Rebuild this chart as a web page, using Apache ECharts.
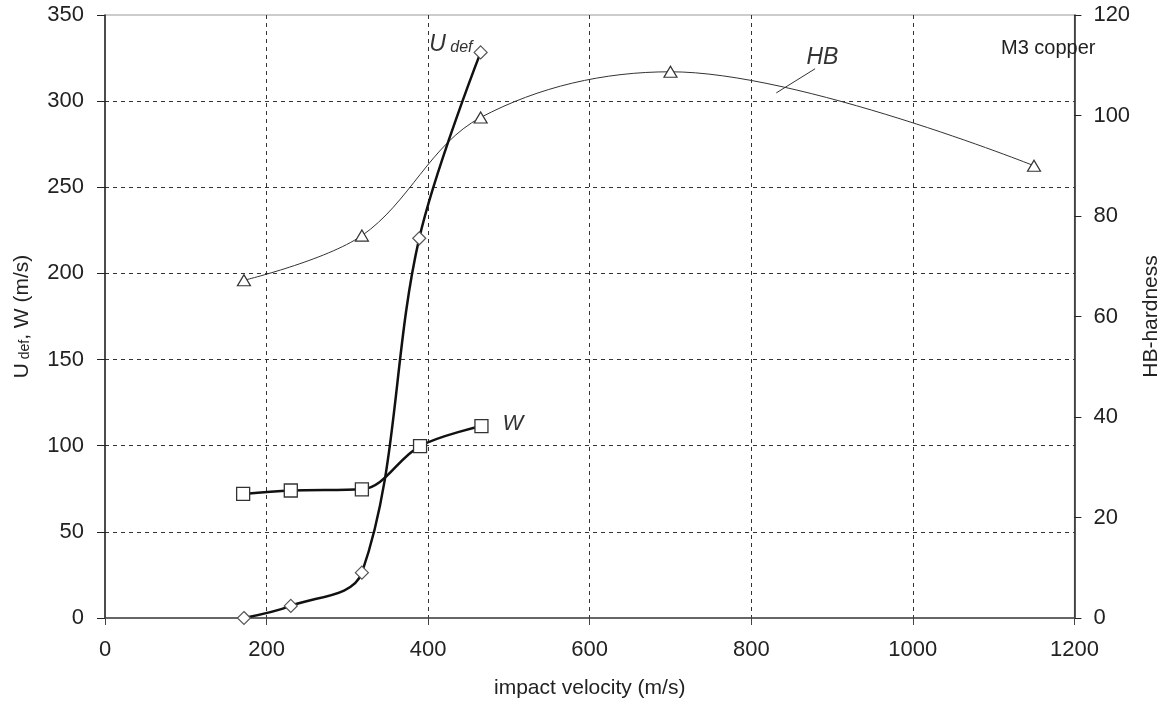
<!DOCTYPE html>
<html>
<head>
<meta charset="utf-8">
<script src="https://cdn.jsdelivr.net/npm/echarts@6/dist/echarts.min.js"></script>
<style>html,body{margin:0;padding:0;background:#fff;}#c{width:1170px;height:711px;}</style>
</head>
<body>
<div id="c"></div>
<script>
// Data
const wX = [171, 230, 318, 390, 466];
const wY = [72, 74, 74.7, 99.8, 111.4];
const uX = [172, 230, 318, 389, 465];
const uY = [0, 7, 26.3, 220.4, 328.3];
const hbX = [172, 318, 465, 700, 1150];
const hbY = [67.2, 76.1, 99.6, 108.7, 90];
const xTicks = [0, 200, 400, 600, 800, 1000, 1200];
const leftTicks = [0, 50, 100, 150, 200, 250, 300, 350];
const rightTicks = [0, 20, 40, 60, 80, 100, 120];

const FONT = "'Liberation Sans', Arial, sans-serif";
const TXT = '#222';

function pairs(xs, ys) { return xs.map((x, i) => [x, ys[i]]); }

const uData = pairs(uX, uY).map(v => ({ value: v }));
uData[uData.length - 1].label = {
  show: true, position: 'left', distance: 1, offset: [0, -8],
  formatter: '{u|U}{d| def}',
  rich: {
    u: { fontSize: 23, fontStyle: 'italic', color: '#333', fontFamily: FONT },
    d: { fontSize: 16, fontStyle: 'italic', color: '#333', fontFamily: FONT, padding: [6, 0, 0, 0] }
  }
};
const wData = pairs(wX, wY).map(v => ({ value: v }));
wData[wData.length - 1].label = {
  show: true, position: 'right', distance: 14, offset: [0, -2],
  formatter: 'W', fontSize: 22, fontStyle: 'italic', color: '#333', fontFamily: FONT
};

const chart = echarts.init(document.getElementById('c'), null, { renderer: 'canvas' });
const dashed = { show: true, lineStyle: { color: '#333', type: [4, 4], width: 1 }, showMinLine: false, showMaxLine: false };

chart.setOption({
  animation: false,
  backgroundColor: '#fff',
  textStyle: { fontFamily: FONT },
  title: {
    text: 'M3 copper', left: 996, top: 33,
    textStyle: { fontSize: 20, fontWeight: 'normal', color: TXT, fontFamily: FONT }
  },
  grid: { left: 105, right: 90, top: 15, bottom: 93, show: true, borderColor: '#999', borderWidth: 1, containLabel: false },
  xAxis: {
    type: 'value', min: 0, max: 1200, interval: 200,
    name: 'impact velocity (m/s)', nameLocation: 'middle', nameGap: 60,
    nameTextStyle: { fontSize: 21, color: TXT, fontFamily: FONT },
    axisLine: { show: true, lineStyle: { color: '#444', width: 1.5 } },
    axisTick: { show: true, length: 7, inside: false, lineStyle: { color: '#444' } },
    axisLabel: { fontSize: 22, color: TXT, margin: 21, fontFamily: FONT,
      formatter: v => xTicks.includes(v) ? String(v) : '' },
    splitLine: dashed
  },
  yAxis: [
    {
      type: 'value', min: 0, max: 350, interval: 50, position: 'left',
      name: '{a|U}{b| def}{a|, W (m/s)}', nameLocation: 'middle', nameGap: 72, nameRotate: 90,
      nameTextStyle: {
        color: TXT, fontFamily: FONT,
        rich: { a: { fontSize: 21, color: TXT, fontFamily: FONT }, b: { fontSize: 14, color: TXT, fontFamily: FONT, padding: [5, 0, 0, 0] } }
      },
      axisLine: { show: true, lineStyle: { color: '#222', width: 1.5 } },
      axisTick: { show: true, length: 8, lineStyle: { color: '#222' } },
      axisLabel: { fontSize: 22, color: TXT, margin: 21, fontFamily: FONT,
        formatter: v => leftTicks.includes(v) ? String(v) : '' },
      splitLine: dashed
    },
    {
      type: 'value', min: 0, max: 120, interval: 20, position: 'right',
      name: 'HB-hardness', nameLocation: 'middle', nameGap: 64, nameRotate: 90,
      nameTextStyle: { fontSize: 21, color: TXT, fontFamily: FONT },
      axisLine: { show: true, lineStyle: { color: '#222', width: 1.5 } },
      axisTick: { show: true, length: 7, lineStyle: { color: '#222' } },
      axisLabel: { fontSize: 22, color: TXT, margin: 19, fontFamily: FONT,
        formatter: v => rightTicks.includes(v) ? String(v) : '' },
      splitLine: { show: false }
    }
  ],
  series: [
    {
      name: 'HB', type: 'line', yAxisIndex: 1, smooth: 0.35,
      data: pairs(hbX, hbY),
      symbol: 'triangle', symbolSize: [13, 11], showSymbol: true,
      lineStyle: { color: '#333', width: 1 },
      itemStyle: { color: '#fff', borderColor: '#333', borderWidth: 1.2 },
      z: 3,
      markLine: {
        silent: true, symbol: ['none', 'none'], label: { show: false },
        lineStyle: { color: '#333', width: 1, type: 'solid' },
        data: [[{ coord: [831, 104.5] }, { coord: [879, 109.3] }]]
      },
      markPoint: {
        silent: true,
        data: [{ coord: [888, 111.6], symbol: 'rect', symbolSize: 1,
          itemStyle: { color: 'rgba(0,0,0,0)' },
          label: { show: true, position: 'inside', formatter: 'HB', fontSize: 23, fontStyle: 'italic', color: '#333', fontFamily: FONT } }]
      }
    },
    {
      name: 'W', type: 'line', yAxisIndex: 0, smooth: 0.35,
      data: wData,
      symbol: 'rect', symbolSize: 13, showSymbol: true,
      lineStyle: { color: '#111', width: 2.5 },
      itemStyle: { color: '#fff', borderColor: '#333', borderWidth: 1.3 },
      z: 4
    },
    {
      name: 'Udef', type: 'line', yAxisIndex: 0, smooth: 0.35,
      data: uData,
      symbol: 'diamond', symbolSize: 13, showSymbol: true,
      lineStyle: { color: '#111', width: 2.5 },
      itemStyle: { color: '#fff', borderColor: '#555', borderWidth: 1.2 },
      z: 5
    }
  ]
});
</script>
</body>
</html>
